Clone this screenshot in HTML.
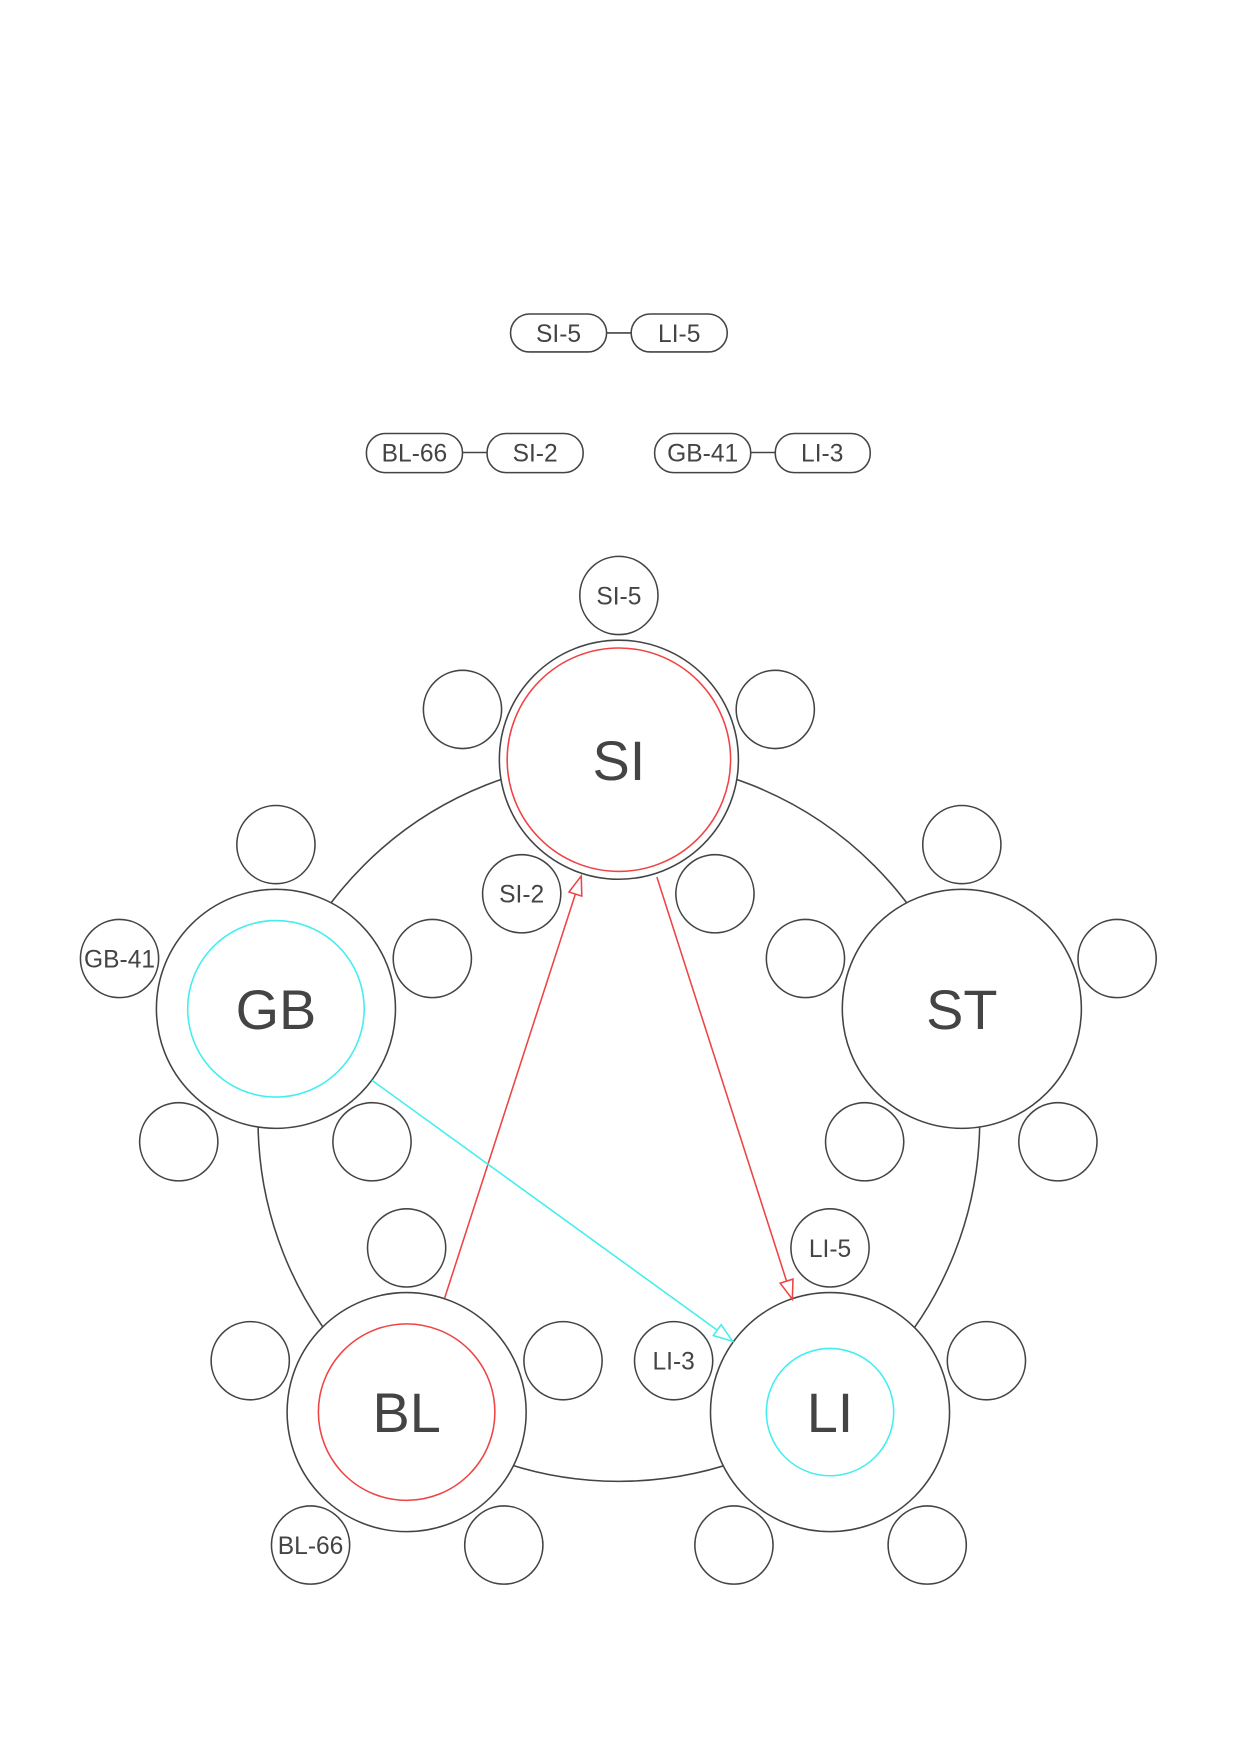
<!DOCTYPE html>
<html><head><style>html,body{margin:0;padding:0;background:#fff}svg{display:block}</style></head><body>
<svg width="1240" height="1754" viewBox="0 0 1110 1570" xmlns="http://www.w3.org/2000/svg" font-family="Liberation Sans, sans-serif" fill="none" stroke="#444" stroke-width="1.4">
<defs>
<marker id="ar" markerWidth="20" markerHeight="16" refX="17" refY="7" orient="auto" markerUnits="userSpaceOnUse"><path d="M1,1 L18,7 L1,13 Z" fill="#fff" stroke="#e44"/></marker>
<marker id="ac" markerWidth="20" markerHeight="16" refX="17" refY="7" orient="auto" markerUnits="userSpaceOnUse"><path d="M1,1 L18,7 L1,13 Z" fill="#fff" stroke="#4ee"/></marker>
</defs>
<g fill="#fff">
<rect x="457" y="281" width="86" height="34" rx="17"/><rect x="565" y="281" width="86" height="34" rx="17"/>
<rect x="328" y="388" width="86" height="35" rx="17"/><rect x="436" y="388" width="86" height="35" rx="17"/>
<rect x="586" y="388" width="86" height="35" rx="17"/><rect x="694" y="388" width="85" height="35" rx="17"/>
</g>
<line x1="543" y1="298" x2="565" y2="298"/><line x1="414" y1="405" x2="436" y2="405"/><line x1="672" y1="405" x2="694" y2="405"/>
<g fill="#444" stroke="none" font-size="22" text-anchor="middle">
<text x="500" y="306">SI-5</text><text x="608" y="306">LI-5</text>
<text x="371" y="413">BL-66</text><text x="479" y="413">SI-2</text>
<text x="629" y="413">GB-41</text><text x="736" y="413">LI-3</text>
</g>
<circle cx="554" cy="1003" r="323"/>
<g fill="#fff">
<circle cx="554" cy="680" r="107"/><circle cx="247" cy="903" r="107"/><circle cx="861" cy="903" r="107"/><circle cx="364" cy="1264" r="107"/><circle cx="743" cy="1264" r="107"/>
</g>
<circle cx="554" cy="680" r="100" stroke="#e44"/>
<circle cx="247" cy="903" r="79" stroke="#4ee"/>
<circle cx="364" cy="1264" r="79" stroke="#e44"/>
<circle cx="743" cy="1264" r="57" stroke="#4ee"/>
<g fill="#fff">
<circle cx="554" cy="533" r="35"/><circle cx="414" cy="635" r="35"/><circle cx="694" cy="635" r="35"/><circle cx="467" cy="800" r="35"/><circle cx="640" cy="800" r="35"/>
<circle cx="247" cy="756" r="35"/><circle cx="107" cy="858" r="35"/><circle cx="387" cy="858" r="35"/><circle cx="160" cy="1022" r="35"/><circle cx="333" cy="1022" r="35"/>
<circle cx="861" cy="756" r="35"/><circle cx="721" cy="858" r="35"/><circle cx="1000" cy="858" r="35"/><circle cx="774" cy="1022" r="35"/><circle cx="947" cy="1022" r="35"/>
<circle cx="364" cy="1117" r="35"/><circle cx="224" cy="1218" r="35"/><circle cx="504" cy="1218" r="35"/><circle cx="278" cy="1383" r="35"/><circle cx="451" cy="1383" r="35"/>
<circle cx="743" cy="1117" r="35"/><circle cx="603" cy="1218" r="35"/><circle cx="883" cy="1218" r="35"/><circle cx="657" cy="1383" r="35"/><circle cx="830" cy="1383" r="35"/>
</g>
<line x1="398" y1="1162" x2="520" y2="785" stroke="#e44" marker-end="url(#ar)"/>
<line x1="588" y1="785" x2="709" y2="1162" stroke="#e44" marker-end="url(#ar)"/>
<line x1="333" y1="967" x2="655" y2="1200" stroke="#4ee" marker-end="url(#ac)"/>
<g fill="#444" stroke="none" text-anchor="middle">
<g font-size="50"><text x="554" y="698">SI</text><text x="247" y="921">GB</text><text x="861" y="921">ST</text><text x="364" y="1282">BL</text><text x="743" y="1282">LI</text></g>
<g font-size="22"><text x="554" y="541">SI-5</text><text x="467" y="808">SI-2</text><text x="107" y="866">GB-41</text><text x="278" y="1391">BL-66</text><text x="743" y="1125">LI-5</text><text x="603" y="1226">LI-3</text></g>
</g>
</svg>
</body></html>
